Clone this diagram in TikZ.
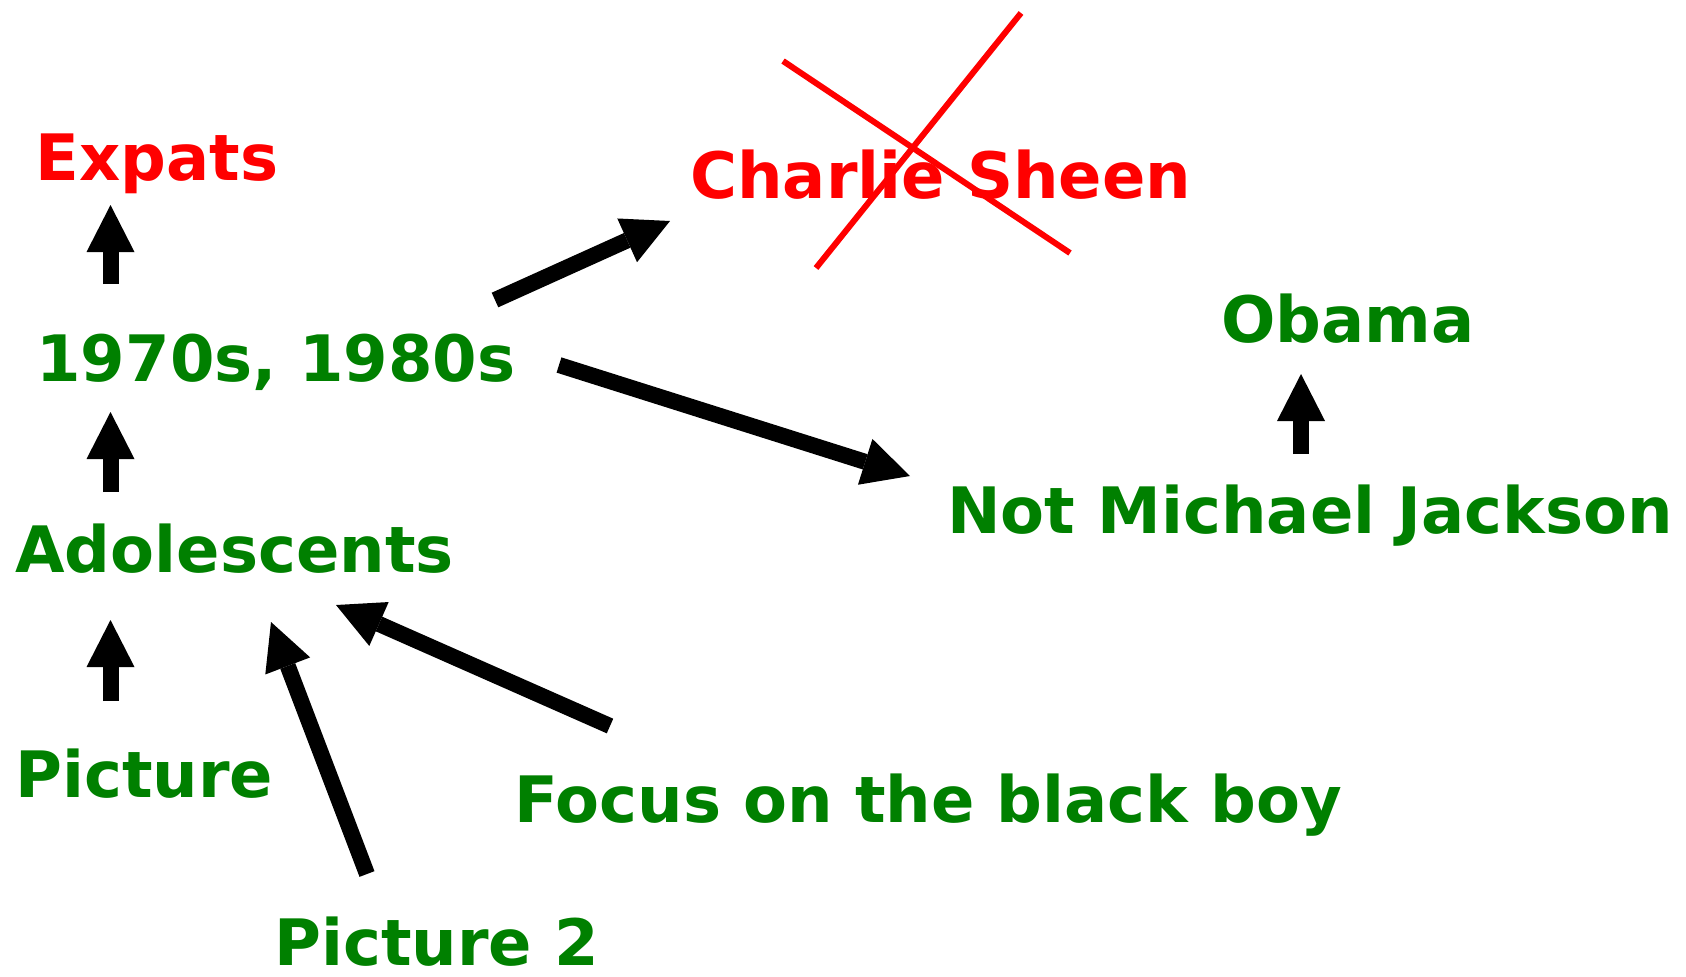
\documentclass[tikz,border=0pt]{standalone}
\usepackage{fontspec}
\setmainfont{DejaVu Sans}
\usetikzlibrary{arrows.meta}
\definecolor{ideared}{HTML}{FF0000}
\definecolor{ideagreen}{HTML}{008000}
\tikzset{
  label/.style={anchor=base west, inner sep=0pt, text depth=0pt,
    font=\fontsize{32}{38}\selectfont\bfseries},
  goodidea/.style={label, text=ideagreen},
  badidea/.style={label, text=ideared},
  link/.style={line width=8pt, black,
    -{Triangle[width=24pt,length=23.5pt,line width=0pt]}},
  strike/.style={line width=3pt, ideared},
}
\begin{document}
\begin{tikzpicture}[x=0.5pt, y=-0.5pt]
  \useasboundingbox (0,0) rectangle (1686,976);

  % labels
  \node[badidea]  (expats)  at (35,180)   {Expats};
  \node[goodidea] (decades) at (36,381)   {1970s, 1980s};
  \node[goodidea] (adol)    at (15,572)   {Adolescents};
  \node[goodidea] (pic)     at (15,797)   {Picture};
  \node[goodidea] (pic2)    at (274,965)  {Picture 2};
  \node[goodidea] (focus)   at (514,822)  {Focus on the black boy};
  \node[badidea]  (sheen)   at (690,198)  {Charlie Sheen};
  \node[goodidea] (obama)   at (1221,342) {Obama};
  \node[goodidea] (notmj)   at (947,533)  {Not Michael Jackson};

  % arrow ends
  \coordinate (e1) at (110.5,284);  \coordinate (e2) at (110.5,205);
  \coordinate (d1) at (110.5,492);  \coordinate (d2) at (110.5,412);
  \coordinate (a1) at (110.5,701);  \coordinate (a2) at (110.5,620);
  \coordinate (o1) at (1301,454);   \coordinate (o2) at (1301,374);
  \coordinate (s1) at (495,300);    \coordinate (s2) at (670,221);
  \coordinate (m1) at (559,365);    \coordinate (m2) at (910,476);
  \coordinate (f1) at (610,726);    \coordinate (f2) at (336,605);
  \coordinate (p1) at (367,874);    \coordinate (p2) at (271,622);

  \draw[link] (e1) -- (e2);
  \draw[link] (d1) -- (d2);
  \draw[link] (a1) -- (a2);
  \draw[link] (o1) -- (o2);
  \draw[link] (s1) -- (s2);
  \draw[link] (m1) -- (m2);
  \draw[link] (f1) -- (f2);
  \draw[link] (p1) -- (p2);

  % cross over Charlie Sheen
  \coordinate (x1) at (783,61);   \coordinate (x2) at (1070,253);
  \coordinate (x3) at (1021,13);  \coordinate (x4) at (816,268);
  \draw[strike] (x1) -- (x2);
  \draw[strike] (x3) -- (x4);
\end{tikzpicture}
\end{document}
